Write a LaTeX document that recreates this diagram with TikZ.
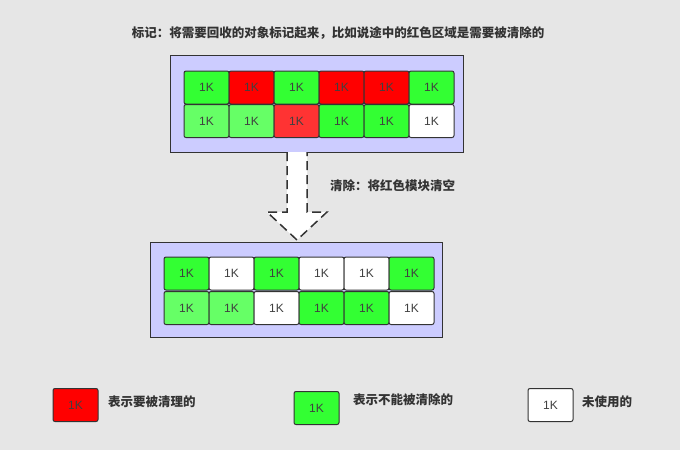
\documentclass[tikz,border=0pt]{standalone}
\usepackage{fontspec}
\setmainfont{Liberation Sans}
\newfontfamily\cjk{Noto Sans CJK SC}
\usetikzlibrary{calc}
\definecolor{bg}{HTML}{E6E6E6}
\definecolor{pool}{HTML}{CCCCFF}
\definecolor{gr}{HTML}{33FF33}
\definecolor{lgr}{HTML}{66FF66}
\definecolor{rd}{HTML}{FF0000}
\definecolor{lrd}{HTML}{FF3333}
\definecolor{wt}{HTML}{FFFFFF}
\tikzset{
  blk/.style = {draw=black!80, line width=1pt, rounded corners=2pt, minimum width=45pt,
    minimum height=33pt, inner sep=0pt, text=black!75, font=\fontsize{12}{12}\selectfont},
  note/.style = {font=\cjk\bfseries\fontsize{12.5}{14}\selectfont, text=black!80, inner sep=0pt}
}
\begin{document}
\begin{tikzpicture}[x=1pt, y=-1pt]
        \fill[bg] (0,0) rectangle (680,450);
        \useasboundingbox (0,0) rectangle (680,450);

        \node[note] (title) at (338,33) {标记：将需要回收的对象标记起来，比如说途中的红色区域是需要被清除的};

        % before sweeping
        \draw[fill=pool, line width=1pt, draw=black!80] (170,55) rectangle (463,152);
        \foreach \c [count=\i] in {gr,rd,gr,rd,rd,gr} {
          \node[blk, fill=\c] (a1\i) at (184 + \i*45 - 22.5, 87.5) {1K};
        };
        \foreach \c [count=\i] in {lgr,lgr,lrd,gr,gr,wt} {
          \node[blk, fill=\c] (a2\i) at (184 + \i*45 - 22.5, 121) {1K};
        };

        % arrow
        \draw[fill=white, dash pattern=on 9pt off 5pt, line width=1.5pt, draw=black!80]
          (287,152) -- (287,212) -- (267,212) -- (297,240) -- (327,212) -- (307,212) -- (307,152);
        \node[note, anchor=west] (step) at (330,186) {清除：将红色模块清空};

        % after sweeping
        \draw[fill=pool, line width=1pt, draw=black!80] (150,242) rectangle (442,337);
        \foreach \c [count=\i] in {gr,wt,gr,wt,wt,gr} {
          \node[blk, fill=\c] (b1\i) at (164 + \i*45 - 22.5, 273.5) {1K};
        };
        \foreach \c [count=\i] in {lgr,lgr,wt,gr,gr,wt} {
          \node[blk, fill=\c] (b2\i) at (164 + \i*45 - 22.5, 308) {1K};
        };

        % legend
        \node[blk, fill=rd] (kred) at (75.5,405) {1K};
        \node[note, anchor=west] (tred) at (108,402) {表示要被清理的};
        \node[blk, fill=gr] (kgreen) at (316.5,408) {1K};
        \node[note, anchor=west] (tgreen) at (353,400) {表示不能被清除的};
        \node[blk, fill=wt] (kwhite) at (550.5,405) {1K};
        \node[note, anchor=west] (twhite) at (582,402) {未使用的};
\end{tikzpicture}
\end{document}
